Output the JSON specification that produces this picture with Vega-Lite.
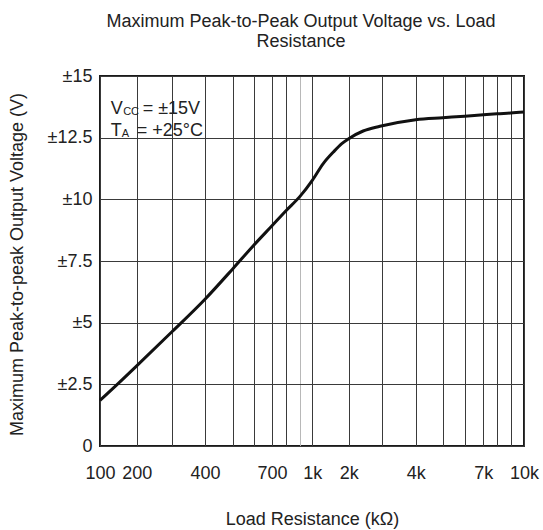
{
  "$schema": "https://vega.github.io/schema/vega-lite/v6.json",
  "width": 424,
  "height": 370,
  "autosize": "none",
  "padding": {"left": 100, "top": 76, "right": 19, "bottom": 84},
  "background": "white",
  "config": {
    "font": "Liberation Sans",
    "view": {"stroke": "#1a1a1a", "strokeWidth": 2},
    "axis": {
      "labelFont": "Liberation Sans",
      "titleFont": "Liberation Sans",
      "labelFontSize": 18,
      "titleFontSize": 18,
      "titleFontWeight": "normal",
      "labelColor": "#222",
      "titleColor": "#222",
      "ticks": false,
      "domain": false,
      "gridOpacity": 1,
      "gridWidth": 1
    }
  },
  "title": {
    "text": ["Maximum Peak-to-Peak Output Voltage vs. Load", "Resistance"],
    "fontSize": 18,
    "fontWeight": "normal",
    "font": "Liberation Sans",
    "color": "#222",
    "lineHeight": 20,
    "anchor": "middle",
    "dx": -11,
    "offset": 16
  },
  "datasets": {
    "curve": [
      {"r": 100, "v": 1.85},
      {"r": 150, "v": 2.54},
      {"r": 200, "v": 3.25},
      {"r": 300, "v": 4.62},
      {"r": 400, "v": 5.95},
      {"r": 500, "v": 7.18},
      {"r": 600, "v": 8.15},
      {"r": 700, "v": 8.93},
      {"r": 800, "v": 9.54},
      {"r": 900, "v": 10.12},
      {"r": 1000, "v": 10.77},
      {"r": 1300, "v": 11.45},
      {"r": 1580, "v": 11.92},
      {"r": 1810, "v": 12.26},
      {"r": 2000, "v": 12.46},
      {"r": 2430, "v": 12.77},
      {"r": 2930, "v": 12.96},
      {"r": 4000, "v": 13.23},
      {"r": 5000, "v": 13.31},
      {"r": 6000, "v": 13.37},
      {"r": 7000, "v": 13.43},
      {"r": 8000, "v": 13.47},
      {"r": 9000, "v": 13.5},
      {"r": 10000, "v": 13.54}
    ],
    "notes": [
      {"txt": "V", "r": 129, "v": 13.47, "part": "main1"},
      {"txt": "CC", "r": 129, "v": 13.47, "part": "sub1"},
      {"txt": "= ±15V", "r": 129, "v": 13.47, "part": "rest1"},
      {"txt": "T", "r": 129, "v": 12.55, "part": "main2"},
      {"txt": "A", "r": 129, "v": 12.55, "part": "sub2"},
      {"txt": "= +25°C", "r": 129, "v": 12.55, "part": "rest2"}
    ]
  },
  "encoding": {
    "x": {
      "field": "r",
      "type": "quantitative",
      "scale": {
        "type": "linear",
        "domain": [100, 200, 300, 400, 500, 600, 700, 800, 900, 1000, 2000, 3000, 4000, 5000, 6000, 7000, 8000, 9000, 10000],
        "range": [0, 36.7, 71.7, 105, 132.7, 154, 172, 186, 200, 212.3, 248.7, 282.3, 315.7, 342.7, 364.7, 383.3, 397, 410.7, 424],
        "clamp": false
      },
      "axis": {
        "values": [100, 200, 300, 400, 500, 600, 700, 800, 900, 1000, 2000, 3000, 4000, 5000, 6000, 7000, 8000, 9000, 10000],
        "labelExpr": "indexof([100,200,400,700],datum.value)>=0 ? ''+datum.value : (indexof([1000,2000,4000,7000,10000],datum.value)>=0 ? (datum.value/1000)+'k' : '')",
        "labelOverlap": false,
        "labelBound": false,
        "labelFlush": false,
        "labelPadding": 18,
        "grid": true,
        "gridColor": {"condition": {"test": "datum.value==900", "value": "#b8b8b8"}, "value": "#3a3a3a"},
        "title": "Load Resistance (kΩ)",
        "titlePadding": 28
      }
    },
    "y": {
      "field": "v",
      "type": "quantitative",
      "scale": {"domain": [0, 15], "nice": false, "zero": true},
      "axis": {
        "values": [0, 2.5, 5, 7.5, 10, 12.5, 15],
        "labelExpr": "datum.value==0 ? '0' : '±'+datum.value",
        "labelPadding": 8,
        "grid": true,
        "gridColor": "#3a3a3a",
        "title": "Maximum Peak-to-peak Output Voltage (V)",
        "titleX": -83,
        "titleY": 188,
        "titleAngle": -90,
        "titleBaseline": "middle",
        "titleAlign": "center"
      }
    }
  },
  "layer": [
    {
      "data": {"values": [{}]},
      "mark": {"type": "rect", "color": "white", "opacity": 1},
      "encoding": {
        "x": {"datum": 113.6, "type": "quantitative"},
        "x2": {"datum": 397},
        "y": {"datum": 14.3, "type": "quantitative"},
        "y2": {"datum": 12.35}
      }
    },
    {
      "data": {"name": "curve"},
      "mark": {"type": "line", "color": "#111", "strokeWidth": 3, "interpolate": "monotone"}
    },
    {
      "data": {"name": "notes"},
      "transform": [{"filter": "datum.part=='main1' || datum.part=='main2'"}],
      "mark": {"type": "text", "align": "left", "baseline": "alphabetic", "fontSize": 18, "color": "#222", "font": "Liberation Sans"},
      "encoding": {"text": {"field": "txt"}}
    },
    {
      "data": {"name": "notes"},
      "transform": [{"filter": "datum.part=='sub1'"}],
      "mark": {"type": "text", "align": "left", "baseline": "alphabetic", "fontSize": 11, "dx": 12.5, "dy": 1, "color": "#222", "font": "Liberation Sans"},
      "encoding": {"text": {"field": "txt"}}
    },
    {
      "data": {"name": "notes"},
      "transform": [{"filter": "datum.part=='sub2'"}],
      "mark": {"type": "text", "align": "left", "baseline": "alphabetic", "fontSize": 11, "dx": 11, "dy": 1, "color": "#222", "font": "Liberation Sans"},
      "encoding": {"text": {"field": "txt"}}
    },
    {
      "data": {"name": "notes"},
      "transform": [{"filter": "datum.part=='rest1'"}],
      "mark": {"type": "text", "align": "left", "baseline": "alphabetic", "fontSize": 18, "dx": 32, "color": "#222", "font": "Liberation Sans"},
      "encoding": {"text": {"field": "txt"}}
    },
    {
      "data": {"name": "notes"},
      "transform": [{"filter": "datum.part=='rest2'"}],
      "mark": {"type": "text", "align": "left", "baseline": "alphabetic", "fontSize": 18, "dx": 26, "color": "#222", "font": "Liberation Sans"},
      "encoding": {"text": {"field": "txt"}}
    }
  ]
}
